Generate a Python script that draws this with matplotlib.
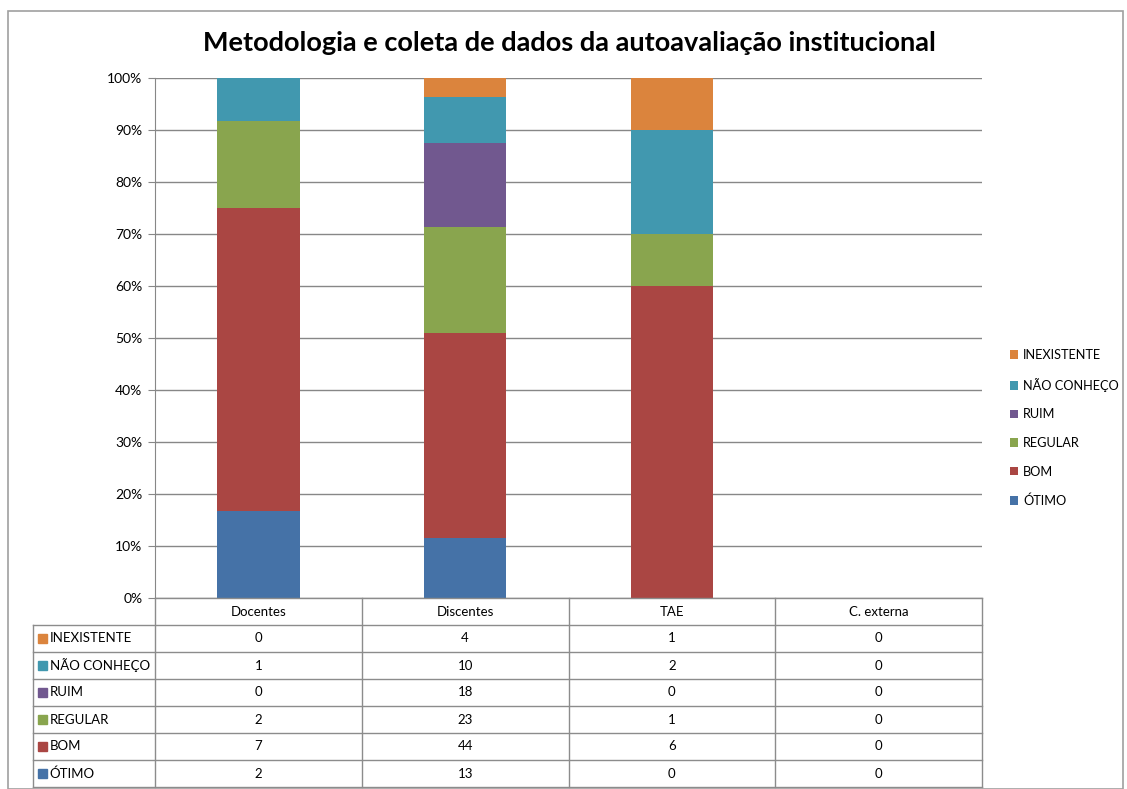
import matplotlib
matplotlib.use("Agg")
import matplotlib.pyplot as plt
import numpy as np
from matplotlib.patches import Rectangle

plt.rcParams['font.family'] = ['Lato', 'DejaVu Sans']

categories = ["Docentes", "Discentes", "TAE", "C. externa"]
series_names = ["ÓTIMO", "BOM", "REGULAR", "RUIM", "NÃO CONHEÇO", "INEXISTENTE"]
otimo = [2, 13, 0, 0]
bom = [7, 44, 6, 0]
regular = [2, 23, 1, 0]
ruim = [0, 18, 0, 0]
nao_conheco = [1, 10, 2, 0]
inexistente = [0, 4, 1, 0]
colors = ["#4572A7", "#AA4643", "#89A54E", "#71588F", "#4198AF", "#DB843D"]
title = "Metodologia e coleta de dados da autoavaliação institucional"

series = [otimo, bom, regular, ruim, nao_conheco, inexistente]
data = np.array(series, dtype=float)
totals = data.sum(axis=0)
pct = np.divide(data, totals, out=np.zeros_like(data), where=totals > 0)

W, H = 1127, 789
fig = plt.figure(figsize=(W / 100, H / 100), dpi=100)

def fx(px):
    return px / W

def fy(py):
    return 1 - py / H

# outer frame
fig.patches.append(Rectangle((fx(8), fy(789)), fx(1123) - fx(8), fy(11) - fy(789),
                             transform=fig.transFigure, fill=False, edgecolor="#A0A0A0", lw=1.2))

L, R, T, B = 155, 982, 78, 598
ax = fig.add_axes([fx(L), fy(B), fx(R) - fx(L), fy(T) - fy(B)])
x = np.arange(len(categories))
bottom = np.zeros(len(categories))
handles = []
for i, name in enumerate(series_names):
    h = ax.bar(x, pct[i], width=0.4, bottom=bottom, color=colors[i], label=name, zorder=2)
    handles.append(h)
    bottom += pct[i]
ax.set_xlim(-0.5, len(categories) - 0.5)
ax.set_ylim(0, 1)
ax.set_yticks(np.arange(0, 1.01, 0.1))
ax.set_yticklabels([f"{int(round(v * 100))}%" for v in np.arange(0, 1.01, 0.1)], fontsize=10)
ax.yaxis.grid(True, color="#878787", lw=1, zorder=0)
ax.set_xticks([])
for s in ["top", "right", "bottom"]:
    ax.spines[s].set_visible(False)
ax.spines["left"].set_color("#878787")
ax.tick_params(axis="y", length=5, color="#878787", pad=4)

fig.text(0.505, fy(43), title, ha="center", va="center", fontsize=19.5, fontweight="bold")

# legend
leg = fig.legend(handles[::-1], series_names[::-1], loc="center left",
                 bbox_to_anchor=(fx(998), fy(428)), frameon=False, fontsize=9.2,
                 handlelength=0.65, handleheight=0.65, labelspacing=1.3, handletextpad=0.4)

# data table
TL = 33
rows_top = 598
header_h = 27
row_h = 27
nrows = len(series_names)
tb_bottom = rows_top + header_h + nrows * row_h
unit = (R - L) / len(categories)
x_left = -0.5 - (L - TL) / unit
tax = fig.add_axes([fx(TL), fy(tb_bottom), fx(R) - fx(TL), fy(rows_top) - fy(tb_bottom)])
tax.set_xlim(x_left, len(categories) - 0.5)
tax.set_ylim(nrows + 1, 0)
tax.axis("off")
lc = "#8C8C8C"
tax.plot([-0.5, len(categories) - 0.5], [0, 0], color=lc, lw=1, clip_on=False)
for j in range(len(categories) + 1):
    tax.plot([j - 0.5, j - 0.5], [0, nrows + 1], color=lc, lw=1, clip_on=False)
tax.plot([x_left, x_left], [1, nrows + 1], color=lc, lw=1, clip_on=False)
for r in range(1, nrows + 2):
    tax.plot([x_left, len(categories) - 0.5], [r, r], color=lc, lw=1, clip_on=False)
for j, c in enumerate(categories):
    tax.text(j, 0.5, c, ha="center", va="center", fontsize=9.5)
order = list(range(nrows))[::-1]
for r, si in enumerate(order):
    yc = r + 1.5
    tax.add_patch(Rectangle((x_left + 0.022, yc - 0.18), 0.045, 0.36, color=colors[si], clip_on=False))
    tax.text(x_left + 0.08, yc, series_names[si], ha="left", va="center", fontsize=9.5)
    for j in range(len(categories)):
        tax.text(j, yc, str(series[si][j]), ha="center", va="center", fontsize=9.5)

fig.savefig("out.png", dpi=100)
